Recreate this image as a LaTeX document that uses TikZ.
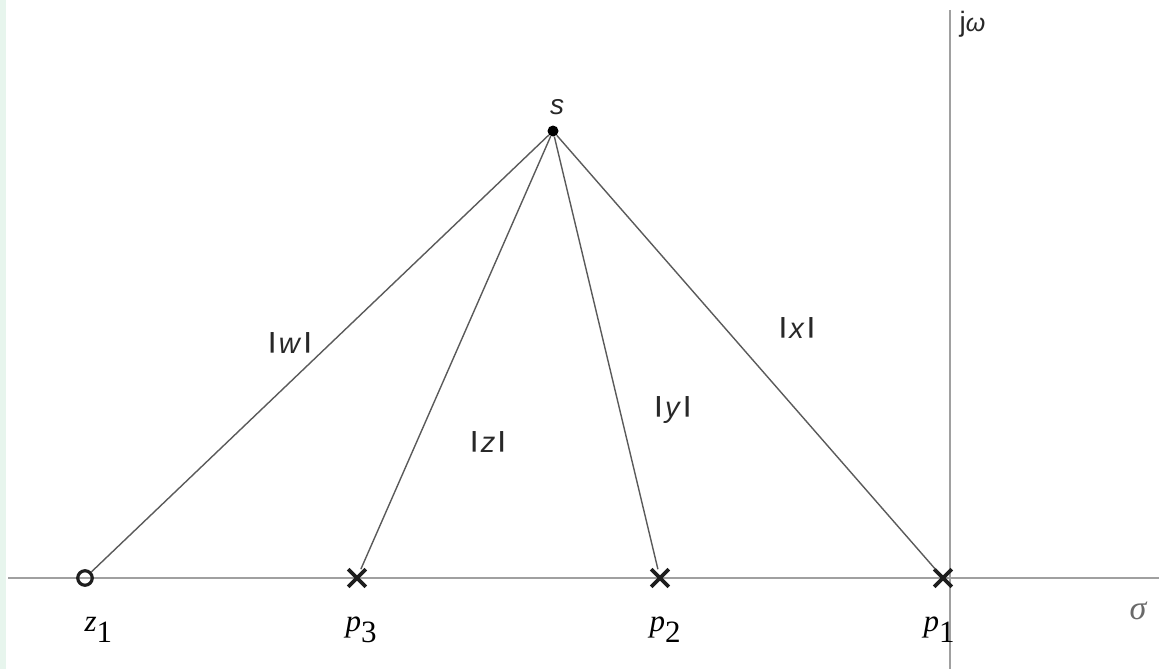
\documentclass[tikz,border=0pt]{standalone}
\usepackage{graphicx}
\usepackage{fontspec}
\setmainfont{Liberation Serif}
\setsansfont{Liberation Sans}
\usetikzlibrary{shapes.misc}
\definecolor{axisgray}{RGB}{160,160,160}
\definecolor{raygray}{RGB}{90,90,90}
\definecolor{markblack}{RGB}{30,30,30}
\definecolor{labelgray}{RGB}{40,40,40}
\definecolor{sigmagray}{RGB}{105,105,105}
\definecolor{stripgreen}{RGB}{231,245,237}
\newcommand{\magbar}{\raisebox{0.16em}{\scalebox{1.3}[0.76]{|}}}
\newcommand{\magn}[1]{\magbar\kern1.5pt\textit{#1}\kern1.5pt\magbar}
\newcommand{\rootlbl}[2]{\textit{#1}\raisebox{-0.36em}{#2}}

\begin{document}
\begin{tikzpicture}[x=1pt, y=-1pt,
    axis/.style={draw=axisgray, line width=2.2pt},
    ray/.style={draw=raygray, line width=1.4pt},
    zero/.style={circle, draw=markblack, line width=3.2pt, minimum size=14.5pt,
                 inner sep=0pt},
    pole/.style={cross out, draw=markblack, line width=3.6pt, minimum size=14pt,
                 inner sep=0pt},
    rootname/.style={anchor=base west, font=\fontsize{31}{31}\selectfont},
    dist/.style={anchor=base, text=labelgray,
                 font=\sffamily\fontsize{29}{29}\selectfont},
]
\useasboundingbox (0,0) rectangle (1159,669);
\fill[stripgreen] (0,0) rectangle (6,669);

\coordinate (sigmaleft) at (8,578);
\coordinate (sigmaright) at (1159,578);
\coordinate (jwtop) at (950,10);
\coordinate (jwbottom) at (950,669);
\draw[axis] (sigmaleft) -- (sigmaright);
\draw[axis] (jwtop) -- (jwbottom);

\node[anchor=base west, text=labelgray] (jw) at (956,32)
    {\sffamily\fontsize{28}{28}\selectfont j\fontsize{25}{25}\selectfont\textit{ω}};
\node[text=sigmagray, font=\itshape\fontsize{34}{34}\selectfont] (sigma) at (1138,611) {σ};

\node[circle, fill=black, minimum size=11pt, inner sep=0pt] (s) at (553,131) {};
\node[text=labelgray, font=\sffamily\itshape\fontsize{28}{28}\selectfont] (slbl) at (557,107) {s};

\node[zero] (z1) at (85,578) {};
\node[pole] (p3) at (357,578) {};
\node[pole] (p2) at (660,578) {};
\node[pole] (p1) at (943,578) {};

\draw[ray] (s) -- (z1);
\draw[ray] (s) -- (p3);
\draw[ray] (s) -- (p2);
\draw[ray] (s) -- (p1);

\node[rootname] (z1lbl) at (81,631) {\rootlbl{z}{1}};
\node[rootname] (p3lbl) at (342,631) {\rootlbl{p}{3}};
\node[rootname] (p2lbl) at (646,631) {\rootlbl{p}{2}};
\node[rootname] (p1lbl) at (920,631) {\rootlbl{p}{1}};

\node[dist] (wlbl) at (290,353) {\magn{w}};
\node[dist] (zlbl) at (488,452) {\magn{z}};
\node[dist] (ylbl) at (673,417) {\magn{y}};
\node[dist] (xlbl) at (797,338) {\magn{x}};

\end{tikzpicture}
\end{document}
